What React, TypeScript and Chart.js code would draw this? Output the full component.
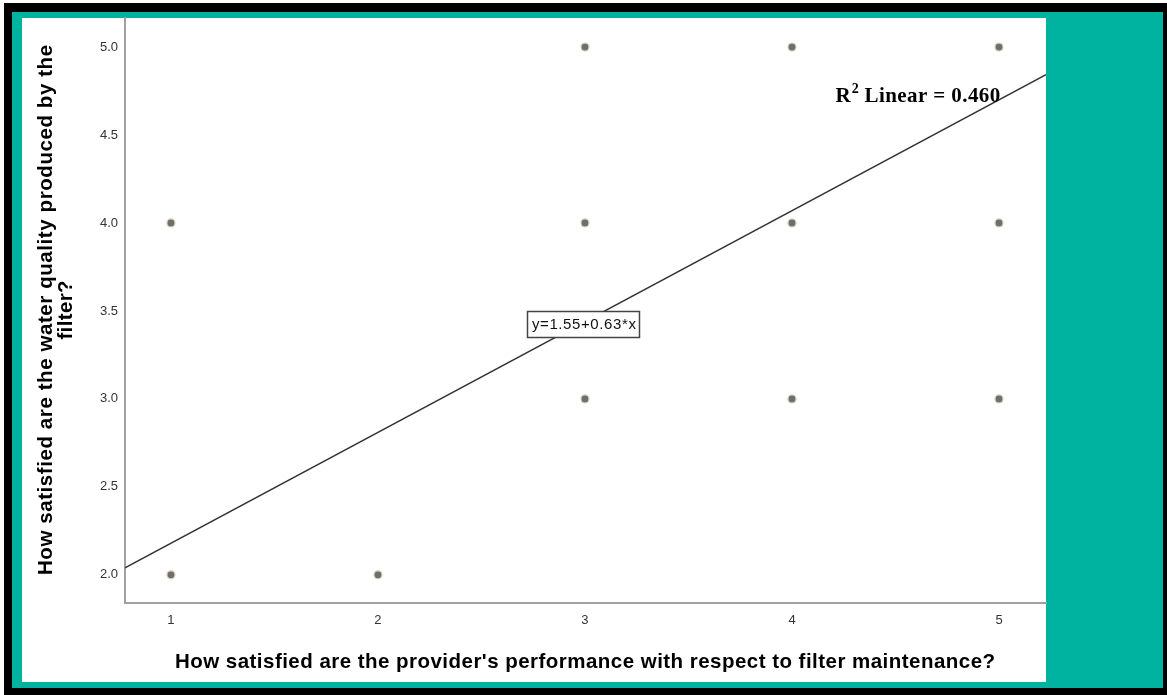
import React, { useEffect, useRef } from "react";
import { Chart, registerables } from "chart.js";

Chart.register(...registerables);

// Data
const providerScores: number[] = [1, 1, 2, 3, 3, 3, 4, 4, 4, 5, 5, 5];
const waterScores: number[] = [4, 2, 2, 5, 4, 3, 5, 4, 3, 5, 4, 3];
const xTickValues: number[] = [1, 2, 3, 4, 5];
const yTickValues: number[] = [2.0, 2.5, 3.0, 3.5, 4.0, 4.5, 5.0];
const fitIntercept = 1.55;
const fitSlope = 0.63;
const rSquared = "0.460";
const xRange: number[] = [0.778, 5.227];
const yRange: number[] = [1.84, 5.165];

const xTitle = "How satisfied are the provider's performance with respect to filter maintenance?";
const yTitle: string[] = ["How satisfied are the water quality produced by the", "filter?"];

const W = 1167;
const H = 695;
const TEAL = "#00b3a0";
const SANS = "'Liberation Sans', Arial, sans-serif";
const SERIF = "'Liberation Serif', 'Times New Roman', serif";

function fitText(ctx: any, text: string, x: number, y: number, target: number) {
  (ctx as any).letterSpacing = "0px";
  const w = ctx.measureText(text).width;
  const extra = (target - w) / Math.max(1, text.length - 1);
  (ctx as any).letterSpacing = extra.toFixed(2) + "px";
  ctx.fillText(text, x + extra / 2, y);
  (ctx as any).letterSpacing = "0px";
}

export default function App() {
  const ref = useRef<HTMLCanvasElement | null>(null);

  useEffect(() => {
    if (!ref.current) return;
    const points = providerScores.map((x, i) => ({ x, y: waterScores[i] }));
    const fitLine = xRange.map((x) => ({ x, y: fitIntercept + fitSlope * x }));

    const framePlugin = {
      id: "frame",
      beforeDraw(chart: any) {
        const ctx = chart.ctx;
        ctx.save();
        ctx.fillStyle = "#ffffff";
        ctx.fillRect(0, 0, W, H);
        ctx.fillStyle = "#000000";
        ctx.fillRect(4, 3, W - 4, H - 3);
        ctx.fillStyle = TEAL;
        ctx.fillRect(12, 12, 1163 - 12, 688 - 12);
        ctx.fillStyle = "#ffffff";
        ctx.fillRect(22, 18, 1046 - 22, 682 - 18);
        ctx.restore();
      },
      afterDraw(chart: any) {
        const ctx = chart.ctx;
        const xs = chart.scales.x;
        const ys = chart.scales.y;
        ctx.save();
        // Axis titles
        ctx.fillStyle = "#000000";
        ctx.font = "bold 20.5px " + SANS;
        ctx.textAlign = "center";
        ctx.textBaseline = "middle";
        fitText(ctx, xTitle, 585, 662, 820);
        ctx.save();
        ctx.translate(46, 310);
        ctx.rotate(-Math.PI / 2);
        fitText(ctx, yTitle[0], 0, 0, 530);
        const fw = ctx.measureText(yTitle[1]).width;
        fitText(ctx, yTitle[1], 0, 20, fw * 1.04);
        ctx.restore();

        // R2 label
        const rx = xs.getPixelForValue(4.21);
        const ry = ys.getPixelForValue(4.72);
        ctx.textAlign = "left";
        ctx.textBaseline = "middle";
        ctx.font = "bold 21px " + SERIF;
        ctx.fillText("R", rx, ry);
        let cx = rx + ctx.measureText("R").width;
        ctx.font = "bold 14px " + SERIF;
        ctx.fillText("2", cx + 1, ry - 7);
        cx += ctx.measureText("2").width + 1;
        ctx.font = "bold 21px " + SERIF;
        fitText(ctx, " Linear = " + rSquared, cx, ry, 1000 - cx);

        // Equation box
        const bx = xs.getPixelForValue(2.99);
        const by = ys.getPixelForValue(3.426);
        const label = "y=" + fitIntercept.toFixed(2) + "+" + fitSlope.toFixed(2) + "*x";
        ctx.font = "15px " + SANS;
        const bw = 112;
        const bh = 26;
        const left = Math.round(bx - bw / 2);
        const top = Math.round(by - bh / 2);
        ctx.fillStyle = "#ffffff";
        ctx.fillRect(left, top, bw, bh);
        ctx.strokeStyle = "#444444";
        ctx.lineWidth = 1.5;
        ctx.strokeRect(left + 0.5, top + 0.5, bw, bh);
        ctx.fillStyle = "#111111";
        ctx.textAlign = "center";
        fitText(ctx, label, bx + 1, by + 1, 104);
        ctx.restore();
      },
    };

    const chart = new Chart(ref.current, {
      type: "scatter",
      data: {
        datasets: [
          {
            type: "line",
            data: fitLine,
            borderColor: "#333333",
            borderWidth: 1.4,
            pointRadius: 0,
            fill: false,
            order: 2,
          } as any,
          {
            data: points,
            backgroundColor: "#6e6e6e",
            borderColor: "#d9d0b4",
            borderWidth: 1.2,
            pointRadius: 4,
            order: 1,
          },
        ],
      },
      options: {
        responsive: false,
        animation: false,
        devicePixelRatio: 1,
        layout: { padding: { left: 22, right: 121, top: 18, bottom: 13 } },
        plugins: { legend: { display: false }, tooltip: { enabled: false } },
        scales: {
          x: {
            type: "linear",
            min: xRange[0],
            max: xRange[1],
            afterBuildTicks: (s: any) => {
              s.ticks = xTickValues.map((v) => ({ value: v }));
            },
            afterFit: (s: any) => {
              s.height = 79;
            },
            grid: { display: false, drawTicks: false },
            border: { display: true, color: "#a0a0a0", width: 2 },
            ticks: {
              color: "#333333",
              font: { family: SANS, size: 13 },
              padding: 10,
              callback: (v: any) => String(v),
            },
          },
          y: {
            type: "linear",
            min: yRange[0],
            max: yRange[1],
            afterBuildTicks: (s: any) => {
              s.ticks = yTickValues.map((v) => ({ value: v }));
            },
            afterFit: (s: any) => {
              s.width = 103;
            },
            grid: { display: false, drawTicks: false },
            border: { display: true, color: "#a0a0a0", width: 2 },
            ticks: {
              color: "#333333",
              font: { family: SANS, size: 13 },
              padding: 7,
              callback: (v: any) => Number(v).toFixed(1),
            },
          },
        },
      },
      plugins: [framePlugin],
    });
    return () => chart.destroy();
  }, []);

  return (
    <div style={{ position: "absolute", left: 0, top: 0, width: W, height: H }}>
      <canvas ref={ref} width={W} height={H} style={{ width: W, height: H, display: "block" }} />
    </div>
  );
}
